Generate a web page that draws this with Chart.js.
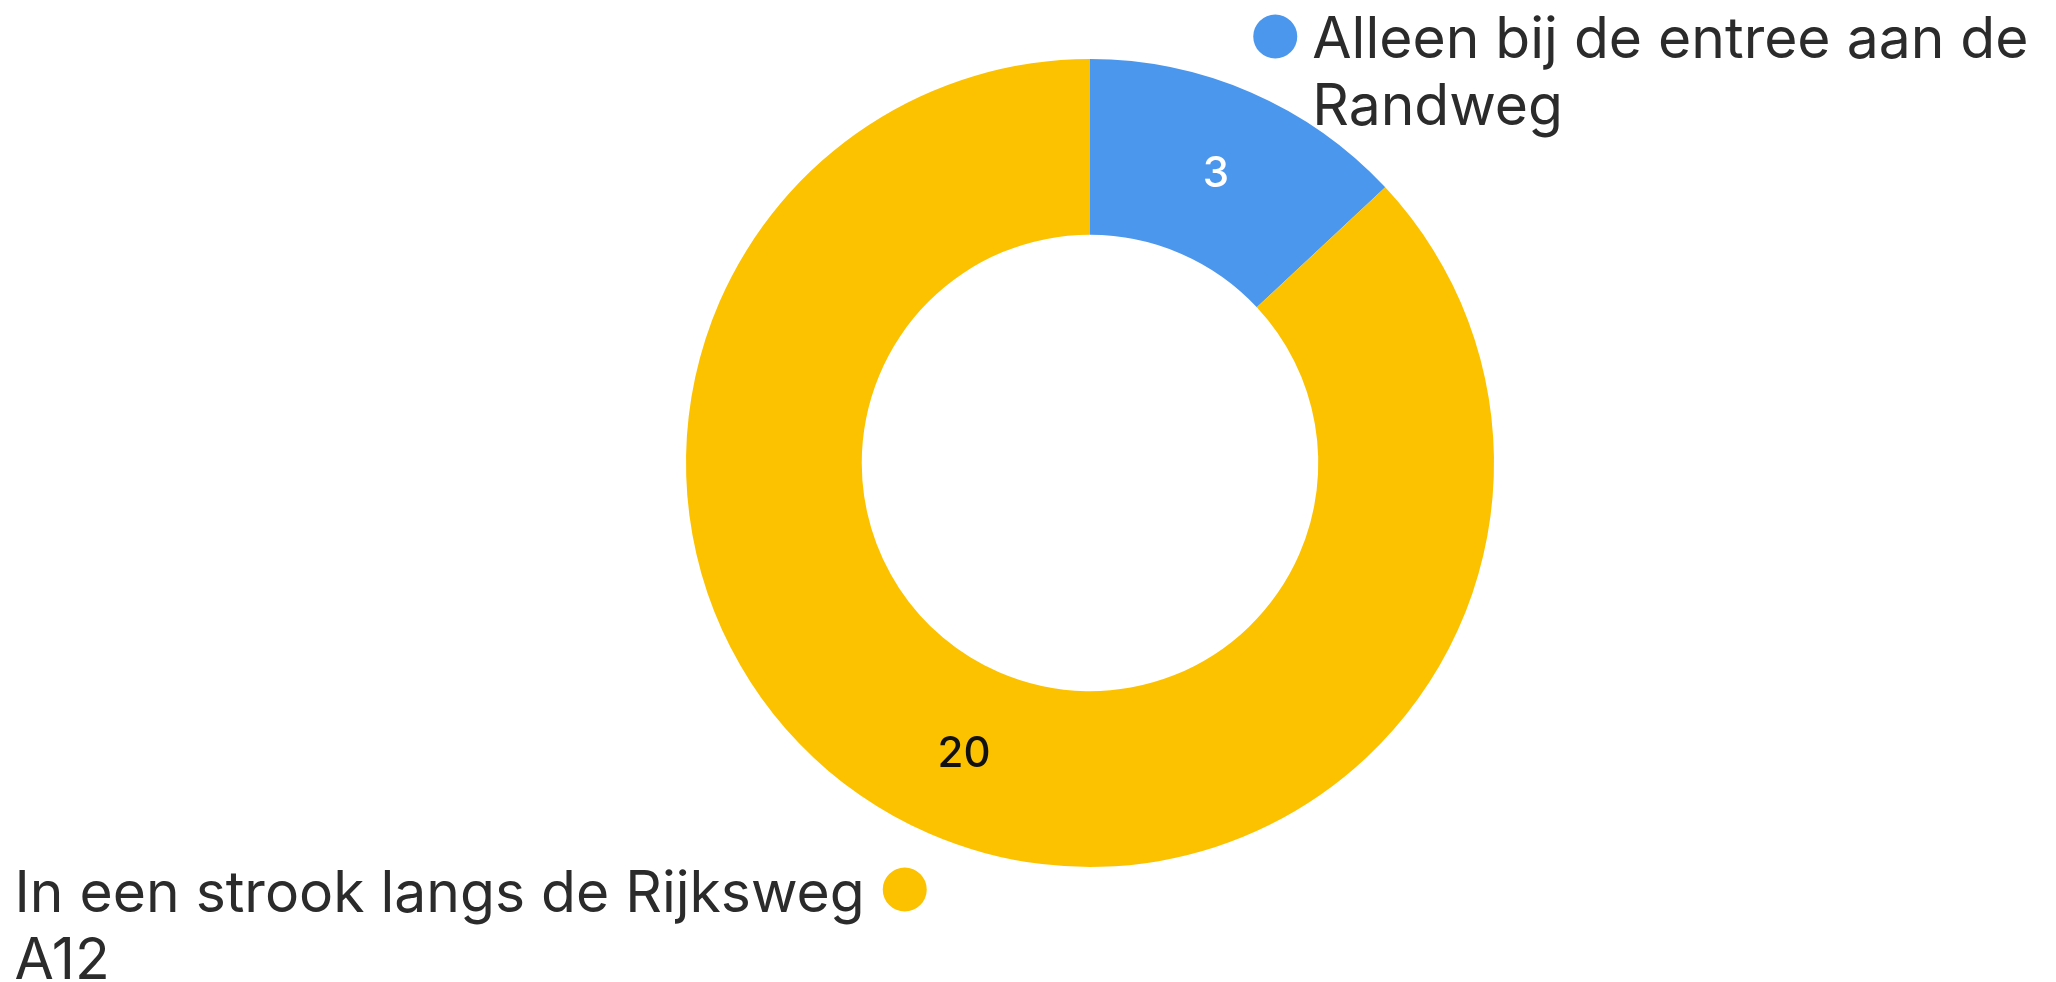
<!DOCTYPE html>
<html>
<head>
<meta charset="utf-8">
<style>
  html, body { margin: 0; padding: 0; background: #ffffff; }
  #wrap { width: 2056px; height: 982px; position: relative; }
  canvas { display: block; }
</style>
<script src="https://cdn.jsdelivr.net/npm/chart.js@4/dist/chart.umd.min.js"></script>
</head>
<body>
<div id="wrap"><canvas id="c" width="2056" height="982"></canvas></div>
<script>
const categories = [
  ["Alleen bij de entree aan de", "Randweg"],
  ["In een strook langs de Rijksweg", "A12"]
];
const values = [3, 20];
const sliceColors = ["#4C97EE", "#FCC200"];
const valueTextColors = ["#ffffff", "#111111"];

const FONT = "Inter, 'Noto Sans', sans-serif";

const outLabelPlugin = {
  id: "outLabels",
  afterDatasetsDraw(chart) {
    const ctx = chart.ctx;
    const meta = chart.getDatasetMeta(0);
    const labels = chart.data.labels;
    const colors = chart.data.datasets[0].backgroundColor;
    const data = chart.data.datasets[0].data;
    meta.data.forEach((arc, i) => {
      const p = arc.getProps(["x", "y", "startAngle", "endAngle", "outerRadius", "innerRadius"], true);
      const mid = (p.startAngle + p.endAngle) / 2;
      const cos = Math.cos(mid), sin = Math.sin(mid);

      // value label at arc centroid
      const rc = (p.outerRadius + p.innerRadius) / 2;
      ctx.save();
      ctx.font = "500 42px " + FONT;
      ctx.fillStyle = valueTextColors[i];
      ctx.textAlign = "center";
      ctx.textBaseline = "middle";
      ctx.fillText(String(data[i]), p.x + cos * rc, p.y + sin * rc + 1);
      ctx.restore();

      // outside label with dot
      const rd = p.outerRadius + 61;
      const dx = p.x + cos * rd;
      const dy = p.y + sin * rd;
      ctx.save();
      ctx.beginPath();
      ctx.arc(dx, dy, 22, 0, Math.PI * 2);
      ctx.fillStyle = colors[i];
      ctx.fill();
      ctx.font = "57px " + FONT;
      ctx.fillStyle = "#2b2b2b";
      ctx.textAlign = "left";
      ctx.textBaseline = "alphabetic";
      const lines = Array.isArray(labels[i]) ? labels[i] : [labels[i]];
      const lh = 67;
      let tx;
      if (cos >= 0) {
        tx = dx + 37;
      } else {
        tx = dx - 40 - ctx.measureText(lines[0]).width;
      }
      lines.forEach((ln, k) => {
        ctx.fillText(ln, tx, dy + 22 + k * lh);
      });
      ctx.restore();
    });
  }
};

new Chart(document.getElementById("c"), {
  type: "doughnut",
  data: {
    labels: categories,
    datasets: [{
      data: values,
      backgroundColor: sliceColors,
      borderWidth: 0,
      hoverOffset: 0
    }]
  },
  options: {
    responsive: false,
    animation: false,
    cutout: "56.5%",
    layout: { padding: { left: 686, right: 562, top: 59, bottom: 115 } },
    plugins: {
      legend: { display: false },
      tooltip: { enabled: false }
    },
    events: []
  },
  plugins: [outLabelPlugin]
});
</script>
</body>
</html>
